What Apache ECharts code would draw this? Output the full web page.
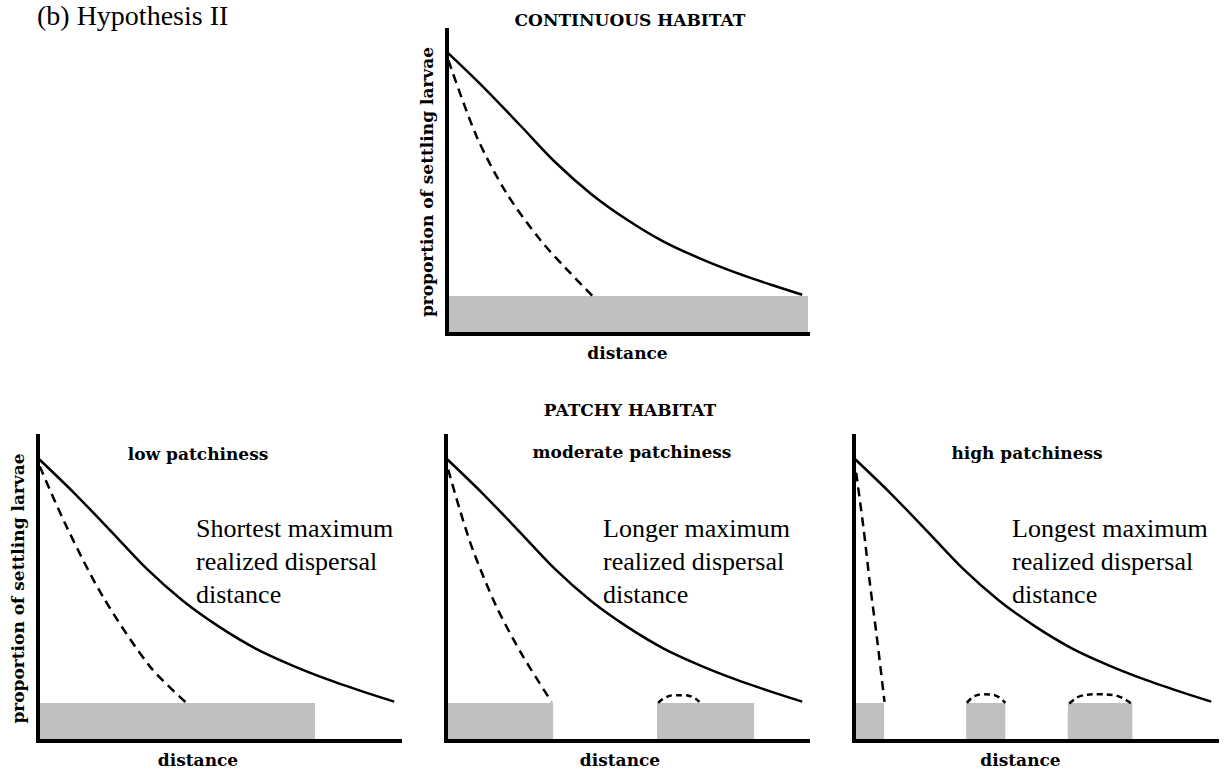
<!DOCTYPE html>
<html><head><meta charset="utf-8">
<script src="https://cdn.jsdelivr.net/npm/echarts@6/dist/echarts.min.js"></script>
<style>html,body{margin:0;padding:0;background:#fff}#c{width:1225px;height:770px}</style>
</head><body><div id="c"></div>
<script>
// ---- text ----
const figureLabel = '(b) Hypothesis II';
const sectionTitles = ['CONTINUOUS HABITAT', 'PATCHY HABITAT'];
const panelTitles = ['low patchiness', 'moderate patchiness', 'high patchiness'];
const yAxisTitle = 'proportion of settling larvae';
const xAxisTitle = 'distance';
const notes = [
  'Shortest maximum\nrealized dispersal\ndistance',
  'Longer maximum\nrealized dispersal\ndistance',
  'Longest maximum\nrealized dispersal\ndistance'
];

// ---- data (x: % of distance axis, y: % of proportion axis) ----
const potentialX = [0.4, 10, 20, 30, 40, 50, 60, 70, 80, 90, 98.4];
const potentialY = [92.3, 81.3, 69.0, 56.5, 46.0, 37.5, 30.4, 24.9, 20.2, 16.1, 12.9];

const realizedContX = [0.4, 8.2, 16.5, 25.8, 33, 40.5];
const realizedContY = [90, 65, 46.3, 31, 21.5, 12.3];
const realizedLowX = [0.5, 8, 18, 31, 41.2];
const realizedLowY = [90, 70, 47.2, 24.3, 12.3];
const realizedModX = [0.6, 3.9, 7.5, 14, 21.4, 29.2];
const realizedModY = [89, 75.5, 62.4, 43.9, 27.5, 12.8];
const realizedHighX = [0.6, 2.6, 4.4, 6.3, 8.4];
const realizedHighY = [88, 70, 51.5, 34, 12.8];

// habitat patches: [start, end, height]
const habitatCont = [[0, 100, 12.5]];
const habitatLow = [[0, 76.5, 12.5]];
const habitatMod = [[0, 29.6, 12.5], [58.3, 85.1, 12.5]];
const habitatHigh = [[0, 8.3, 12.5], [30.9, 41.7, 12.5], [58.9, 76.7, 12.5]];

// settlement on distant patches (dashed arcs)
const arcModX = [58.6, 60.5, 63, 66, 68.5, 70];
const arcModY = [12.5, 14.2, 15.0, 15.0, 14.2, 12.8];
const arcHighAX = [31.1, 33, 35.5, 38.5, 41.7];
const arcHighAY = [12.5, 14.6, 15.3, 15.1, 12.5];
const arcHighBX = [59.3, 62.5, 67.2, 71.8, 76.4];
const arcHighBY = [12.3, 14.8, 15.3, 15.0, 12.3];

const zip = (xs, ys) => xs.map((x, i) => [x, ys[i]]);

const BOLD = 'DejaVu Serif';
const SERIF = 'Liberation Serif';
const grids = [
  {left: 447, top: 30, width: 361, height: 304},
  {left: 38, top: 436, width: 362, height: 305},
  {left: 446, top: 436, width: 362, height: 305},
  {left: 854, top: 436, width: 363, height: 305}
];
const xNameShift = [0, 42, 14, 30];

const xAxes = grids.map((g, i) => ({
  type: 'value', gridIndex: i, min: 0, max: 100, z: 10,
  axisLine: {show: true, onZero: false, lineStyle: {color: '#000', width: 4, cap: 'square'}},
  axisTick: {show: false}, axisLabel: {show: false}, splitLine: {show: false},
  name: xAxisTitle, nameLocation: 'middle', nameGap: 10,
  nameTextStyle: {fontFamily: BOLD, fontWeight: 'bold', fontSize: 17, color: '#000',
    padding: [0, xNameShift[i], 0, 0]}
}));
const yAxes = grids.map((g, i) => ({
  type: 'value', gridIndex: i, min: 0, max: 100, z: 10,
  axisLine: {show: true, onZero: false, lineStyle: {color: '#000', width: 4, cap: 'square'}},
  axisTick: {show: false}, axisLabel: {show: false}, splitLine: {show: false},
  name: (i < 2) ? yAxisTitle : '', nameLocation: 'middle', nameGap: 12,
  nameTextStyle: {fontFamily: BOLD, fontWeight: 'bold', fontSize: 17, color: '#000'}
}));

function patches(data, i) {
  return {
    type: 'custom', xAxisIndex: i, yAxisIndex: i, z: 1, silent: true,
    encode: {x: [0, 1], y: 2},
    data: data,
    renderItem: function (params, api) {
      const p0 = api.coord([api.value(0), 0]);
      const p1 = api.coord([api.value(1), api.value(2)]);
      return {type: 'rect', shape: {x: p0[0], y: p1[1], width: p1[0] - p0[0], height: p0[1] - p1[1]},
        style: {fill: '#c0c0c0'}};
    }
  };
}
function line(xs, ys, i, dash, smooth) {
  return {
    type: 'line', xAxisIndex: i, yAxisIndex: i, z: 3, silent: true,
    data: zip(xs, ys), symbol: 'none', smooth: smooth || 0.3,
    lineStyle: {color: '#000', width: 2.5, type: dash || 'solid'}
  };
}

const series = [
  patches(habitatCont, 0), patches(habitatLow, 1), patches(habitatMod, 2), patches(habitatHigh, 3),
  line(potentialX, potentialY, 0), line(potentialX, potentialY, 1),
  line(potentialX, potentialY, 2), line(potentialX, potentialY, 3),
  line(realizedContX, realizedContY, 0, [9, 6]),
  line(realizedLowX, realizedLowY, 1, [9, 6]),
  line(realizedModX, realizedModY, 2, [9, 6]),
  line(realizedHighX, realizedHighY, 3, [9, 6]),
  line(arcModX, arcModY, 2, [6, 4], 0.4),
  line(arcHighAX, arcHighAY, 3, [6, 4], 0.4),
  line(arcHighBX, arcHighBY, 3, [6, 4], 0.4)
];

function boldText(t, x, y) {
  return {type: 'text', x: x, y: y, style: {text: t, fontFamily: BOLD, fontWeight: 'bold', fontSize: 17,
    fill: '#000', textAlign: 'center', textVerticalAlign: 'middle'}};
}
function noteText(t, x) {
  return {type: 'text', x: x, y: 512, z: 5, style: {text: t, fontFamily: SERIF, fontSize: 26, lineHeight: 33,
    fill: '#000', textAlign: 'left', textVerticalAlign: 'top'}};
}
const graphic = [
  {type: 'text', x: 37, y: 15, style: {text: figureLabel, fontFamily: SERIF, fontSize: 28, fill: '#000',
    textAlign: 'left', textVerticalAlign: 'middle'}},
  boldText(sectionTitles[0], 630, 20),
  boldText(sectionTitles[1], 630, 410),
  boldText(panelTitles[0], 198, 454),
  boldText(panelTitles[1], 632, 452),
  boldText(panelTitles[2], 1027, 453),
  noteText(notes[0], 196),
  noteText(notes[1], 603),
  noteText(notes[2], 1012)
];

const chart = echarts.init(document.getElementById('c'), null, {renderer: 'svg'});
chart.setOption({
  animation: false,
  backgroundColor: '#fff',
  grid: grids,
  xAxis: xAxes,
  yAxis: yAxes,
  series: series,
  graphic: graphic
});
</script>
</body></html>
